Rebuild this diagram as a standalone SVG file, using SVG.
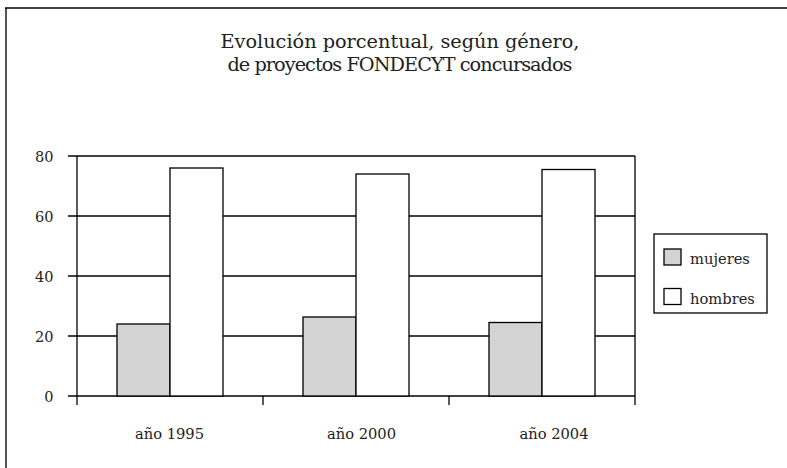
<svg xmlns="http://www.w3.org/2000/svg" width="787" height="468" viewBox="0 0 787 468">
<style>
text{font-family:"DejaVu Serif","Liberation Serif",serif;fill:#222}
.title{font-size:19.3px;text-anchor:middle}
.ytick{font-size:14.5px;text-anchor:end}
.cat{font-size:14.7px;text-anchor:middle}
.leg{font-size:14.7px}
.grid{stroke:#000;stroke-width:1.3;fill:none}
.bar{stroke:#000;stroke-width:1.3}
.m{fill:#d4d4d4}
.h{fill:#fff}
</style>
<rect width="787" height="468" fill="#fff"/>
<g id="frame">
<line x1="6" y1="8" x2="6" y2="468" stroke="#555" stroke-width="2"/>
<line x1="5" y1="8" x2="787" y2="8" stroke="#000" stroke-width="1.6"/>
</g>
<g id="title">
<text class="title" x="400" y="48" textLength="359" lengthAdjust="spacing">Evolución porcentual, según género,</text>
<text class="title" x="400" y="71" textLength="345" lengthAdjust="spacing">de proyectos FONDECYT concursados</text>
</g>
<g id="axes">
<line class="grid" x1="68" y1="156" x2="635" y2="156"/>
<line class="grid" x1="68" y1="216" x2="635" y2="216"/>
<line class="grid" x1="68" y1="276" x2="635" y2="276"/>
<line class="grid" x1="68" y1="336" x2="635" y2="336"/>
<line class="grid" x1="68" y1="396" x2="635" y2="396"/>
<line class="grid" x1="77" y1="156" x2="77" y2="405"/>
<line class="grid" x1="635" y1="156" x2="635" y2="405"/>
<line class="grid" x1="263" y1="396" x2="263" y2="405"/>
<line class="grid" x1="449" y1="396" x2="449" y2="405"/>
<text class="ytick" x="53.5" y="162">80</text>
<text class="ytick" x="53.5" y="222">60</text>
<text class="ytick" x="53.5" y="282">40</text>
<text class="ytick" x="53.5" y="342">20</text>
<text class="ytick" x="53.5" y="402">0</text>
</g>
<g id="cat-1995">
<rect class="bar m" x="117" y="324" width="53" height="72"/>
<rect class="bar h" x="170" y="168" width="53" height="228"/>
<text class="cat" x="169.5" y="439">año 1995</text>
</g>
<g id="cat-2000">
<rect class="bar m" x="303" y="317" width="53" height="79"/>
<rect class="bar h" x="356" y="174" width="53" height="222"/>
<text class="cat" x="361.5" y="439">año 2000</text>
</g>
<g id="cat-2004">
<rect class="bar m" x="489" y="322.5" width="53" height="73.5"/>
<rect class="bar h" x="542" y="169.5" width="53" height="226.5"/>
<text class="cat" x="554" y="439">año 2004</text>
</g>
<g id="legend">
<rect x="654" y="234" width="113" height="79" fill="#fff" stroke="#000" stroke-width="1.3"/>
<rect class="bar m" x="664" y="249" width="17" height="16"/>
<text class="leg" x="690" y="264">mujeres</text>
<rect class="bar h" x="664" y="288.5" width="17" height="16"/>
<text class="leg" x="690" y="304">hombres</text>
</g>
</svg>
